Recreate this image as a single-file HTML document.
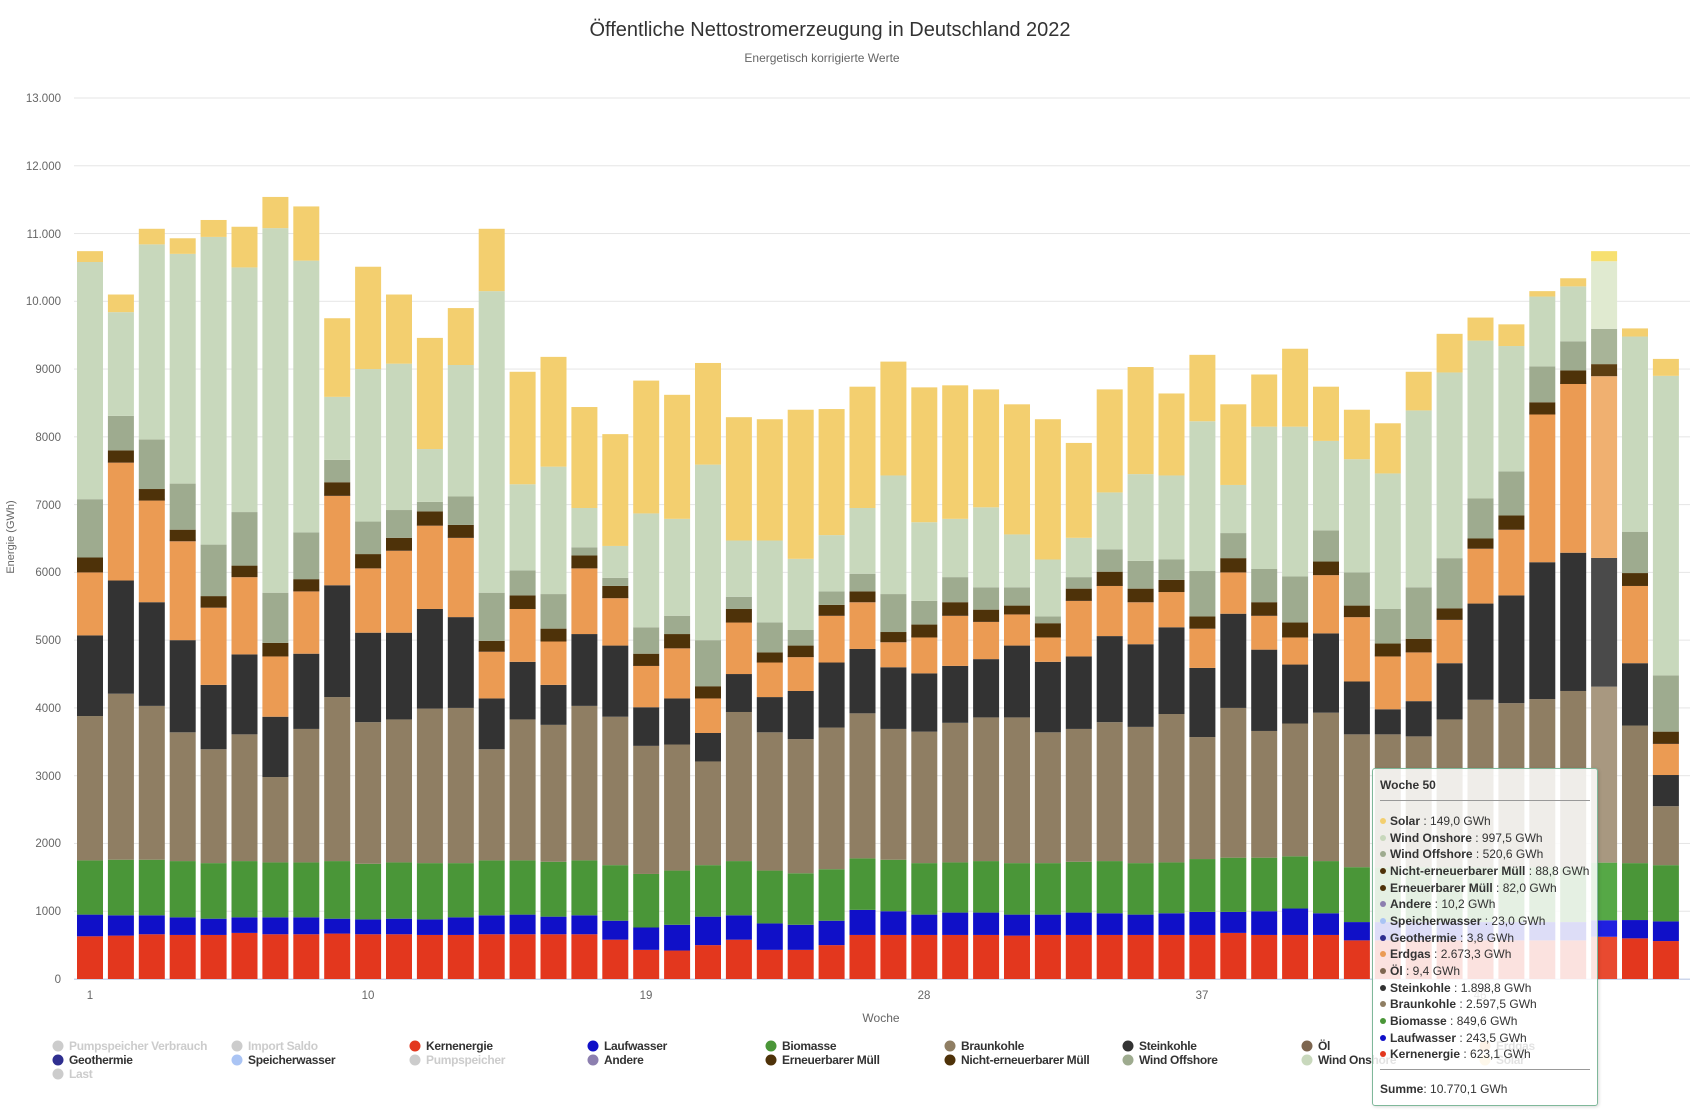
<!DOCTYPE html>
<html><head><meta charset="utf-8"><style>
html,body{margin:0;padding:0;background:#fff;}
body{width:1700px;height:1114px;overflow:hidden;position:relative;font-family:"Liberation Sans",sans-serif;}
svg{position:absolute;left:0;top:0;}
.tt{position:absolute;left:1372px;top:768px;width:224px;height:336px;background:rgba(255,255,255,0.86);border:1.5px solid #7fb89a;border-radius:3px;box-shadow:1px 1px 3px rgba(0,0,0,0.15);font-size:12px;color:#333;}
.tt .h{position:absolute;left:7px;top:9px;font-weight:bold;}
.tt .ln{position:absolute;left:7px;right:7px;height:1px;background:#999;}
.tt .it{position:absolute;left:7px;white-space:nowrap;}
.tt .it i{display:inline-block;width:6px;height:6px;border-radius:3px;margin-right:4px;vertical-align:1px;}
</style></head><body>
<svg id="s" width="1700" height="1114" xmlns="http://www.w3.org/2000/svg" font-family="Liberation Sans, sans-serif">
<text x="830" y="36" text-anchor="middle" font-size="20" fill="#333">Öffentliche Nettostromerzeugung in Deutschland 2022</text>
<text x="822" y="62" text-anchor="middle" font-size="12" fill="#666">Energetisch korrigierte Werte</text>
<g id="grid"></g>
<g font-size="11.5" fill="#666" text-anchor="end">
<text x="61" y="102">13.000</text><text x="61" y="170">12.000</text><text x="61" y="238">11.000</text><text x="61" y="305">10.000</text>
<text x="61" y="373">9000</text><text x="61" y="441">8000</text><text x="61" y="509">7000</text><text x="61" y="576">6000</text>
<text x="61" y="644">5000</text><text x="61" y="712">4000</text><text x="61" y="780">3000</text><text x="61" y="847">2000</text>
<text x="61" y="915">1000</text><text x="61" y="983">0</text>
</g>
<text transform="translate(14,537) rotate(-90)" text-anchor="middle" font-size="11" fill="#666">Energie (GWh)</text>
<g font-size="11.5" fill="#666" text-anchor="middle">
<text x="90" y="999">1</text><text x="368" y="999">10</text><text x="646" y="999">19</text><text x="924" y="999">28</text><text x="1202" y="999">37</text><text x="1480" y="999">46</text>
</g>
<text x="881" y="1022" text-anchor="middle" font-size="12" fill="#666">Woche</text>
<g id="bars"></g>
<g font-size="12" font-weight="bold" letter-spacing="-0.3">
<circle cx="58" cy="1046" r="5.5" fill="#ccc"/><text x="69" y="1050" fill="#ccc">Pumpspeicher Verbrauch</text>
<circle cx="237" cy="1046" r="5.5" fill="#ccc"/><text x="248" y="1050" fill="#ccc">Import Saldo</text>
<circle cx="415" cy="1046" r="5.5" fill="#e3371e"/><text x="426" y="1050" fill="#333">Kernenergie</text>
<circle cx="593" cy="1046" r="5.5" fill="#1010c8"/><text x="604" y="1050" fill="#333">Laufwasser</text>
<circle cx="771" cy="1046" r="5.5" fill="#4a9638"/><text x="782" y="1050" fill="#333">Biomasse</text>
<circle cx="950" cy="1046" r="5.5" fill="#8f7e63"/><text x="961" y="1050" fill="#333">Braunkohle</text>
<circle cx="1128" cy="1046" r="5.5" fill="#333"/><text x="1139" y="1050" fill="#333">Steinkohle</text>
<circle cx="1307" cy="1046" r="5.5" fill="#7d6650"/><text x="1318" y="1050" fill="#333">Öl</text>
<circle cx="1485" cy="1046" r="5.5" fill="#eb9b53"/><text x="1496" y="1050" fill="#333">Erdgas</text>
<circle cx="58" cy="1060" r="5.5" fill="#2e2e8f"/><text x="69" y="1064" fill="#333">Geothermie</text>
<circle cx="237" cy="1060" r="5.5" fill="#aac4f4"/><text x="248" y="1064" fill="#333">Speicherwasser</text>
<circle cx="415" cy="1060" r="5.5" fill="#ccc"/><text x="426" y="1064" fill="#ccc">Pumpspeicher</text>
<circle cx="593" cy="1060" r="5.5" fill="#8c7faf"/><text x="604" y="1064" fill="#333">Andere</text>
<circle cx="771" cy="1060" r="5.5" fill="#4e3209"/><text x="782" y="1064" fill="#333">Erneuerbarer Müll</text>
<circle cx="950" cy="1060" r="5.5" fill="#4e3209"/><text x="961" y="1064" fill="#333">Nicht-erneuerbarer Müll</text>
<circle cx="1128" cy="1060" r="5.5" fill="#9eab8f"/><text x="1139" y="1064" fill="#333">Wind Offshore</text>
<circle cx="1307" cy="1060" r="5.5" fill="#c8d8bc"/><text x="1318" y="1064" fill="#333">Wind Onshore</text>
<circle cx="1485" cy="1060" r="5.5" fill="#f3cf6f"/><text x="1496" y="1064" fill="#333">Solar</text>
<circle cx="58" cy="1074" r="5.5" fill="#ccc"/><text x="69" y="1078" fill="#ccc">Last</text>
</g>
</svg>
<div class="tt">
<div class="h">Woche 50</div>
<div class="ln" style="top:31px"></div>
<div class="it" style="top:45px"><i style="background:#f3cf6f"></i><b>Solar</b> : 149,0 GWh</div>
<div class="it" style="top:62px"><i style="background:#c8d8bc"></i><b>Wind Onshore</b> : 997,5 GWh</div>
<div class="it" style="top:78px"><i style="background:#9eab8f"></i><b>Wind Offshore</b> : 520,6 GWh</div>
<div class="it" style="top:95px"><i style="background:#4e3209"></i><b>Nicht-erneuerbarer Müll</b> : 88,8 GWh</div>
<div class="it" style="top:112px"><i style="background:#4e3209"></i><b>Erneuerbarer Müll</b> : 82,0 GWh</div>
<div class="it" style="top:128px"><i style="background:#8c7faf"></i><b>Andere</b> : 10,2 GWh</div>
<div class="it" style="top:145px"><i style="background:#aac4f4"></i><b>Speicherwasser</b> : 23,0 GWh</div>
<div class="it" style="top:162px"><i style="background:#2e2e8f"></i><b>Geothermie</b> : 3,8 GWh</div>
<div class="it" style="top:178px"><i style="background:#eb9b53"></i><b>Erdgas</b> : 2.673,3 GWh</div>
<div class="it" style="top:195px"><i style="background:#7d6650"></i><b>Öl</b> : 9,4 GWh</div>
<div class="it" style="top:212px"><i style="background:#333"></i><b>Steinkohle</b> : 1.898,8 GWh</div>
<div class="it" style="top:228px"><i style="background:#8f7e63"></i><b>Braunkohle</b> : 2.597,5 GWh</div>
<div class="it" style="top:245px"><i style="background:#4a9638"></i><b>Biomasse</b> : 849,6 GWh</div>
<div class="it" style="top:262px"><i style="background:#1010c8"></i><b>Laufwasser</b> : 243,5 GWh</div>
<div class="it" style="top:278px"><i style="background:#e3371e"></i><b>Kernenergie</b> : 623,1 GWh</div>
<div class="ln" style="top:300px"></div>
<div class="it" style="top:313px"><b>Summe</b>: 10.770,1 GWh</div>
</div>
<script>
var D=[
[630,950,1750,3880,5070,6000,6220,7080,10580,10740],
[640,940,1760,4210,5880,7620,7800,8310,9840,10100],
[660,940,1760,4030,5560,7060,7230,7960,10840,11070],
[650,910,1740,3640,5000,6460,6630,7310,10700,10930],
[650,890,1710,3390,4340,5480,5650,6410,10950,11200],
[680,910,1740,3610,4790,5930,6100,6890,10500,11100],
[660,910,1720,2980,3870,4760,4960,5700,11080,11540],
[660,910,1720,3690,4800,5720,5900,6590,10600,11400],
[670,890,1740,4160,5810,7130,7330,7660,8590,9750],
[660,880,1700,3790,5110,6060,6270,6750,9000,10510],
[660,890,1720,3830,5110,6320,6510,6920,9080,10100],
[650,880,1710,3990,5460,6690,6900,7040,7820,9460],
[650,910,1710,4000,5340,6510,6700,7120,9060,9900],
[660,940,1750,3390,4140,4830,4990,5700,10150,11070],
[660,950,1750,3830,4680,5460,5660,6030,7300,8960],
[660,920,1730,3750,4340,4980,5170,5680,7560,9180],
[660,940,1750,4030,5090,6060,6250,6370,6950,8440],
[580,860,1680,3870,4920,5620,5800,5920,6390,8040],
[430,760,1550,3440,4010,4620,4800,5190,6870,8830],
[420,800,1600,3460,4140,4880,5090,5360,6790,8620],
[500,920,1680,3210,3630,4140,4320,5000,7590,9090],
[580,940,1740,3940,4500,5260,5460,5640,6470,8290],
[430,820,1600,3640,4160,4670,4820,5260,6470,8260],
[430,800,1560,3540,4250,4750,4920,5150,6200,8400],
[500,860,1620,3710,4670,5360,5520,5720,6550,8410],
[650,1020,1780,3920,4870,5560,5720,5980,6950,8740],
[650,1000,1760,3690,4600,4970,5120,5680,7430,9110],
[650,950,1710,3650,4510,5040,5230,5580,6740,8730],
[650,980,1720,3780,4620,5360,5560,5930,6790,8760],
[650,980,1740,3860,4720,5270,5450,5780,6960,8700],
[640,950,1710,3860,4920,5380,5510,5780,6560,8480],
[650,950,1710,3640,4680,5040,5250,5350,6190,8260],
[650,980,1730,3690,4760,5580,5760,5930,6510,7910],
[650,970,1740,3790,5060,5800,6010,6340,7180,8700],
[650,950,1710,3720,4940,5560,5760,6170,7450,9030],
[650,970,1720,3910,5190,5710,5890,6190,7430,8640],
[650,990,1770,3570,4590,5170,5350,6020,8230,9210],
[680,990,1790,4000,5390,6000,6210,6580,7290,8480],
[650,1000,1790,3660,4860,5360,5560,6050,8150,8920],
[650,1040,1810,3770,4640,5040,5260,5940,8150,9300],
[650,970,1740,3930,5100,5960,6160,6620,7940,8740],
[570,840,1650,3610,4390,5340,5510,6000,7670,8400],
[570,840,1650,3610,3980,4760,4950,5460,7460,8200],
[570,840,1650,3580,4100,4820,5020,5780,8390,8960],
[570,840,1650,3830,4660,5300,5470,6210,8950,9520],
[570,840,1650,4120,5540,6350,6500,7090,9420,9760],
[570,840,1650,4070,5660,6630,6840,7490,9340,9660],
[570,840,1650,4130,6150,8330,8510,9040,10070,10150],
[570,840,1650,4250,6290,8780,8980,9410,10220,10340],
[623,867,1717,4314,6213,8896,9073,9594,10591,10740],
[600,870,1710,3740,4660,5800,5990,6600,9480,9600],
[560,850,1680,2550,3010,3470,3650,4480,8900,9150]];
var C=['#e3371e','#1010c8','#4a9638','#8f7e63','#333333','#eb9b53','#4e3209','#9eab8f','#c8d8bc','#f3cf6f'];
var H=['#e84a30','#2020e0','#56a846','#a89880','#4a4a4a','#f0b070','#5c3e12','#a8b498','#e0ead0','#f7e070'];
function Y(v){return 979-v*0.06777;}
var ns='http://www.w3.org/2000/svg',g=document.getElementById('bars'),gr=document.getElementById('grid');
function R(p,x,y,w,h,f){var r=document.createElementNS(ns,'rect');r.setAttribute('x',x);r.setAttribute('y',y);r.setAttribute('width',w);r.setAttribute('height',Math.max(h,0));r.setAttribute('fill',f);p.appendChild(r);}
for(var k=1;k<=13;k++)R(gr,74,Y(k*1000)-0.5,1616,1,'#e6e6e6');
for(var i=0;i<52;i++){var cx=90+i*30.9,x=cx-13,d=D[i],col=(i==49?H:C),prev=0;
for(var j=0;j<10;j++){var t=d[j];R(g,x,Y(t),26,Y(prev)-Y(t),col[j]);
if(j==5){R(g,x,Y(t)-1,26,1,'#8c7faf');R(g,x,Y(t)-2.5,26,1.5,'#aac4f4');}
prev=t;}}
R(gr,74,978.5,1616,1.5,'#ccd6eb');
</script>
</body></html>
